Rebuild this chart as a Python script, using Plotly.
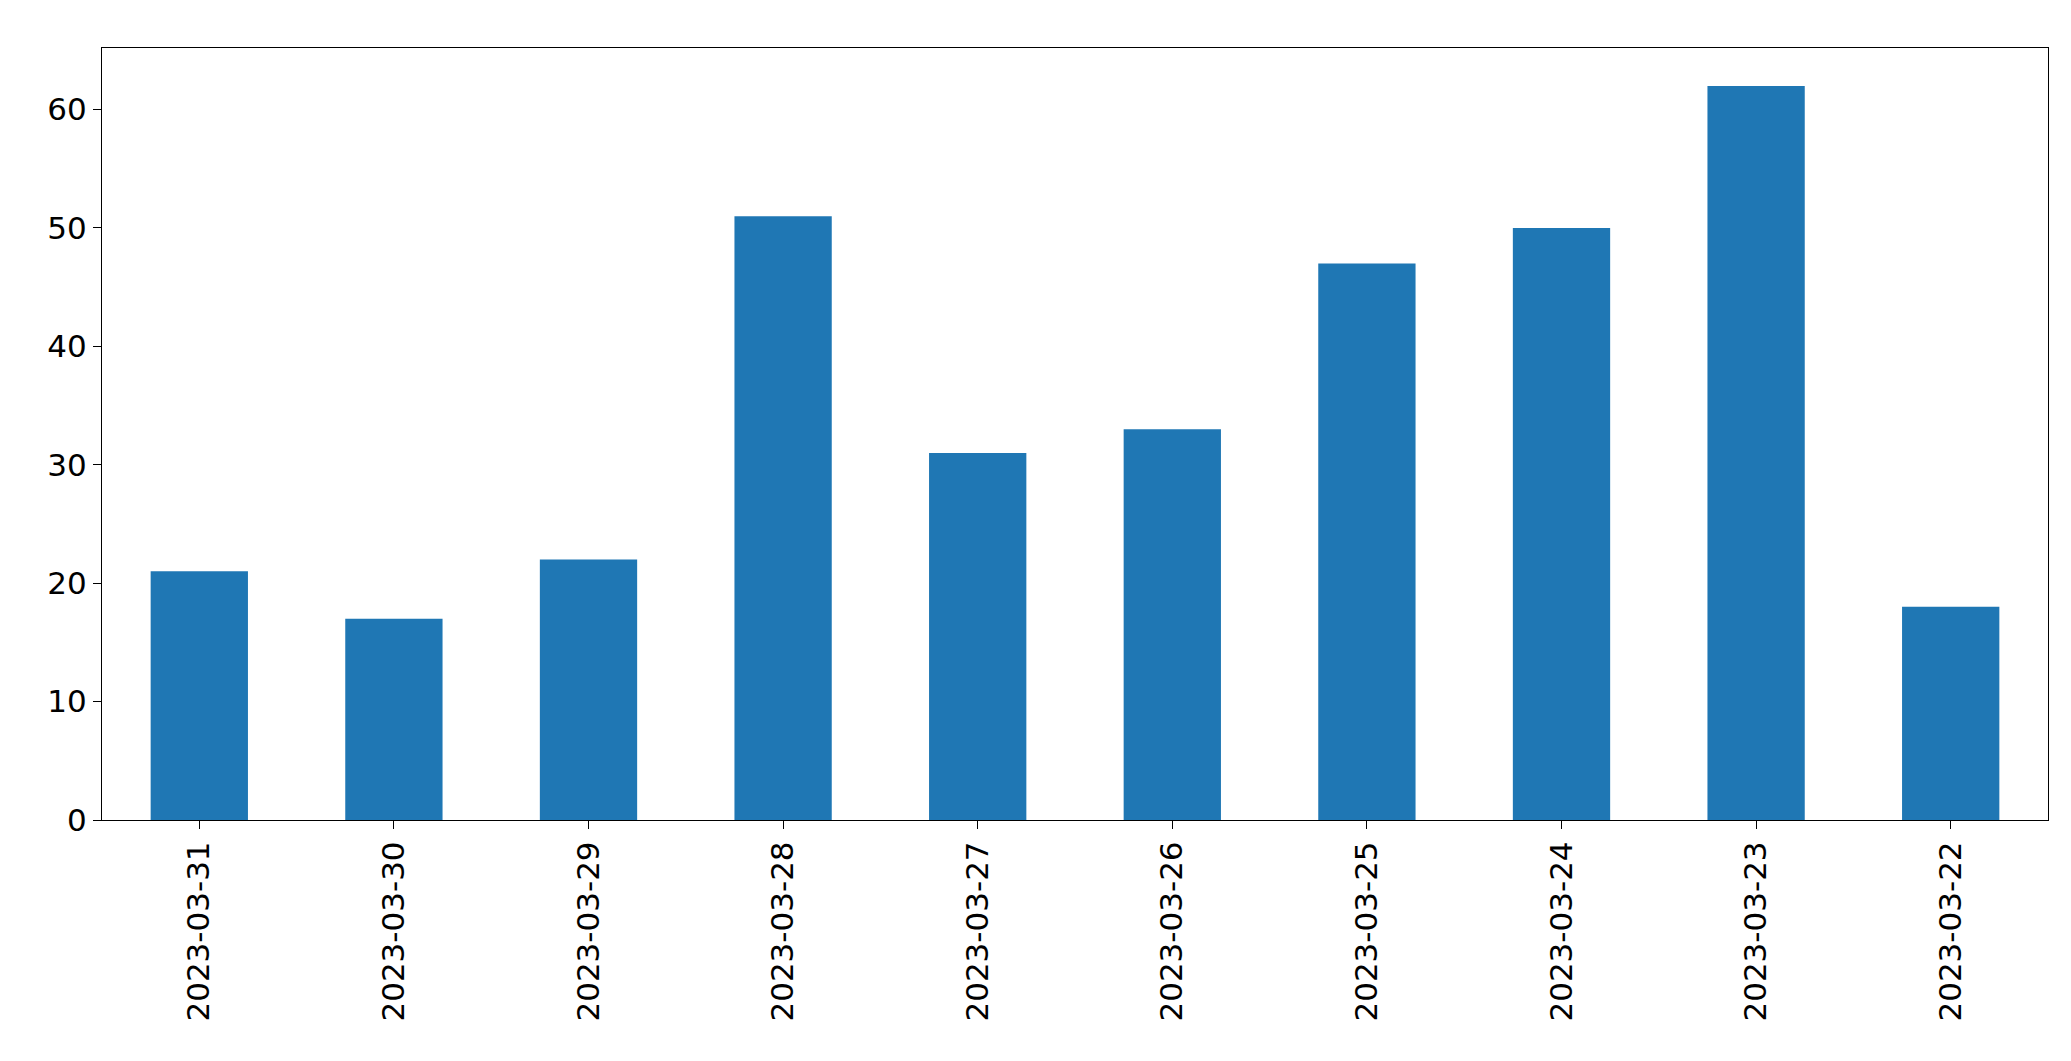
import plotly.graph_objects as go

dates = ["2023-03-31", "2023-03-30", "2023-03-29", "2023-03-28", "2023-03-27",
         "2023-03-26", "2023-03-25", "2023-03-24", "2023-03-23", "2023-03-22"]
counts = [21, 17, 22, 51, 31, 33, 47, 50, 62, 18]

fig = go.Figure(go.Bar(x=dates, y=counts, width=0.5, marker_color="#1f77b4",
                       marker_line_width=0))

axis_style = dict(showline=True, linecolor="black", linewidth=1, mirror=True,
                  ticks="outside", ticklen=8, tickcolor="black", showgrid=False,
                  zeroline=False, tickfont=dict(family="DejaVu Sans", size=31, color="black"))

fig.update_xaxes(type="category", tickangle=-90, range=[-0.5, 9.5], **axis_style)
fig.update_yaxes(range=[0, 65.2], tickvals=[0, 10, 20, 30, 40, 50, 60], **axis_style)

fig.update_layout(width=2071, height=1061, plot_bgcolor="white", paper_bgcolor="white",
                  margin=dict(l=94, r=31, t=40, b=249), showlegend=False)

fig.write_html("out.html")
